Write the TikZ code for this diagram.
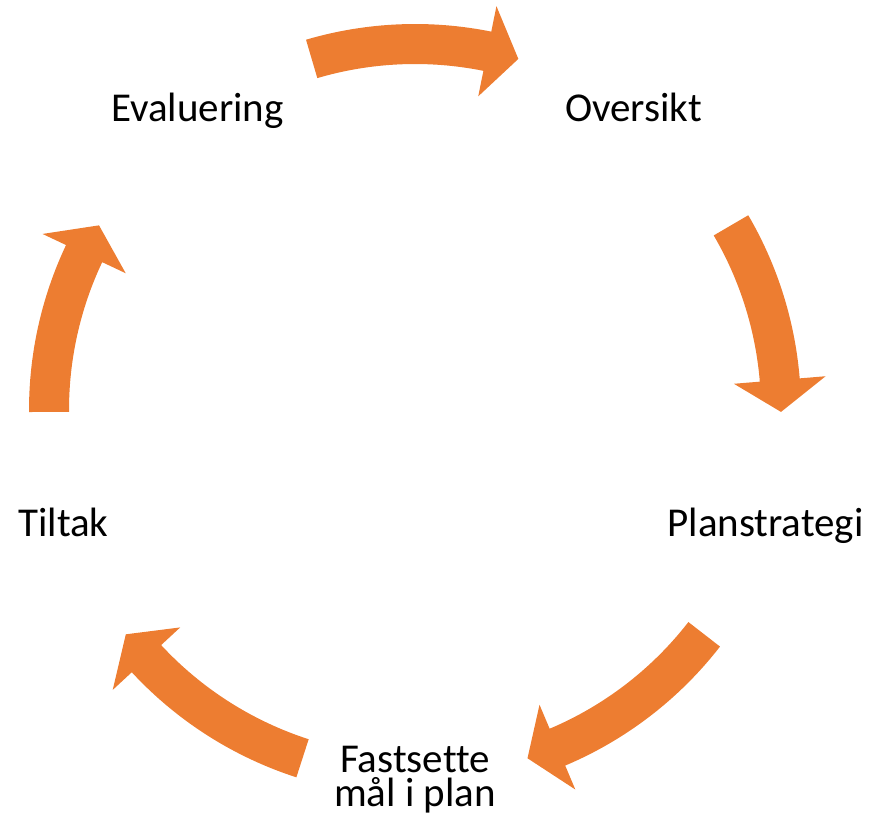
\documentclass[tikz,border=0pt]{standalone}
\usepackage{fontspec}
\setmainfont{Carlito}[Ligatures=NoCommon]
\definecolor{arroworange}{HTML}{ED7D31}
\newcommand{\cyclearrow}[3]{% tail angle, tip angle, head base angle
  \fill[arroworange] (#1:386pt) arc[start angle=#1, end angle=#3, radius=386pt]
    -- (#3:412pt) -- (#2:366pt) -- (#3:320pt) -- (#3:346pt)
    arc[start angle=#3, end angle=#1, radius=346pt] -- cycle;}
\begin{document}
\begin{tikzpicture}[x=1pt,y=1pt,
  lbl/.style={font=\fontsize{41}{34}\selectfont, inner sep=0pt, anchor=base, align=center, text=black}]
\useasboundingbox (0,0) rectangle (872,822);
\begin{scope}[shift={(415,412)}]
  \cyclearrow{106.4}{73.6}{78.6}
  \cyclearrow{30.3}{-0.3}{4.7}
  \cyclearrow{-37.8}{-72.1}{-67.1}
  \cyclearrow{-107.9}{-142.2}{-137.2}
  \cyclearrow{180.3}{149.7}{154.7}
\end{scope}
\node[lbl] (eval) at (197.5,700) {Evaluering};
\node[lbl] (over) at (633.5,700) {Oversikt};
\node[lbl] (plan) at (765.5,285) {Planstrategi};
\node[lbl] (tilt) at (63.5,285) {Tiltak};
\node[lbl] (fast) at (415,16) {Fastsette\\mål i plan};
\end{tikzpicture}
\end{document}
